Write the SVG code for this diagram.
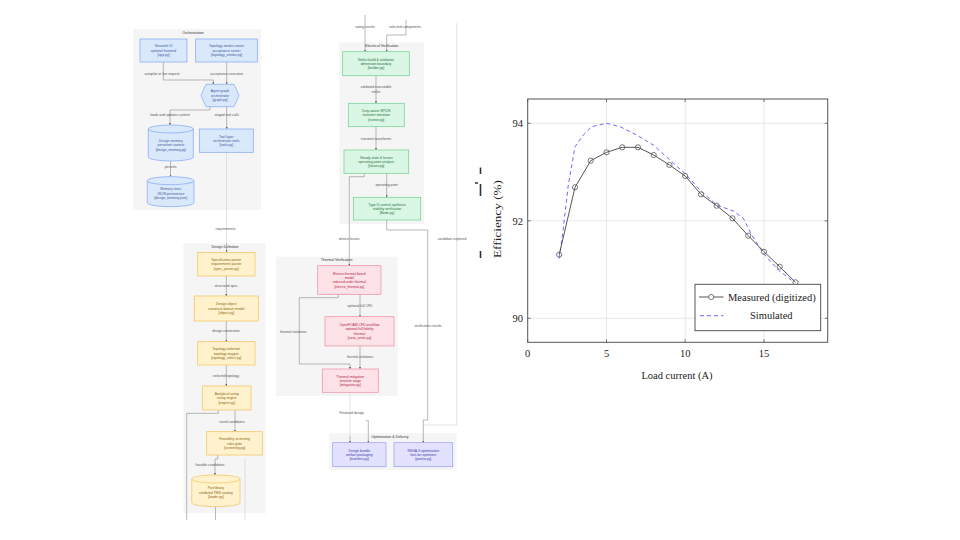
<svg xmlns="http://www.w3.org/2000/svg" width="960" height="540" viewBox="0 0 960 540">
<defs>
<style>
.cl{fill:#f5f5f5;stroke:none}
.ct{font-family:"Liberation Sans",Arial,sans-serif;font-size:3.6px;fill:#333;text-anchor:middle}
.t{font-family:"Liberation Sans",Arial,sans-serif;font-size:3.4px;text-anchor:middle}
.lb{font-family:"Liberation Sans",Arial,sans-serif;font-size:3.4px;fill:#555;text-anchor:middle}
.b{fill:#dae8fc;stroke:#7ea6f2;stroke-width:0.7}
.bt{fill:#3a5a9a}
.y{fill:#fff2cc;stroke:#f2c25a;stroke-width:0.7}
.yt{fill:#8a6414}
.g{fill:#d9f7e4;stroke:#6fd08f;stroke-width:0.7}
.gt{fill:#2a7040}
.r{fill:#fde2e8;stroke:#f08aa0;stroke-width:0.7}
.rt{fill:#b02848}
.p{fill:#e2e2ff;stroke:#9a9af2;stroke-width:0.7}
.pt{fill:#4040a8}
.e{fill:none;stroke:#8a8a8a;stroke-width:0.6}
.ef{fill:none;stroke:#d0d0d0;stroke-width:0.6}
.ax{font-family:"Liberation Serif","Times New Roman",serif;font-size:10.5px;fill:#222}
.grid{stroke:#e2e2e2;stroke-width:0.8}
</style>
<marker id="ah" viewBox="0 0 4 4" refX="4" refY="2" markerWidth="2" markerHeight="2" markerUnits="userSpaceOnUse" orient="auto">
<path d="M0,0 L4,2 L0,4 Z" fill="#555"/>
</marker>
</defs>
<rect width="960" height="540" fill="#ffffff"/>

<!-- clusters -->
<g id="clusters">
<rect class="cl" x="133" y="29" width="128" height="181"/>
<text class="ct" x="193" y="34.3">Orchestration</text>
<rect class="cl" x="183.3" y="243.3" width="82.4" height="270"/>
<text class="ct" x="225" y="247.8">Design Definition</text>
<rect class="cl" x="339.3" y="42.3" width="84.7" height="181.7"/>
<text class="ct" x="381.7" y="47">Electrical Verification</text>
<rect class="cl" x="276" y="256.7" width="121.7" height="139.3"/>
<text class="ct" x="336.7" y="261">Thermal Verification</text>
<rect class="cl" x="329.3" y="433.3" width="127.4" height="36.7"/>
<text class="ct" x="390" y="438">Optimization &amp; Delivery</text>
</g>

<!-- connectors -->
<g id="connectors">
<path class="e" d="M163.3,62 V80 H213.3 V84.3" marker-end="url(#ah)"/>
<path class="e" d="M226.7,62 V84.3" marker-end="url(#ah)"/>
<path class="e" d="M210,106.7 V110 H170 V125" marker-end="url(#ah)"/>
<path class="e" d="M226.7,106.7 V129" marker-end="url(#ah)"/>
<path class="e" d="M170.5,161 V176.7" marker-end="url(#ah)"/>
<path class="ef" d="M226.5,152.3 V243"/>
<path class="e" d="M226.5,243 V252.3" marker-end="url(#ah)"/>
<path class="e" d="M226.3,276 V296" marker-end="url(#ah)"/>
<path class="e" d="M226.3,321 V341.7" marker-end="url(#ah)"/>
<path class="e" d="M226.3,365 V386" marker-end="url(#ah)"/>
<path class="e" d="M218.3,410 V413.3 H186.7 V520"/>
<path class="e" d="M235,410 V431.7" marker-end="url(#ah)"/>
<path class="e" d="M217.7,455 V459 H215 V475" marker-end="url(#ah)"/>
<path class="e" d="M215.5,506.7 V520"/>
<path class="ef" d="M245,458 V520"/>
<path class="e" d="M365,15 V51.7" marker-end="url(#ah)"/>
<path class="e" d="M406,20 V35 H386.7 V51.7" marker-end="url(#ah)"/>
<path class="e" d="M376,75.7 V103.3" marker-end="url(#ah)"/>
<path class="e" d="M376,126.7 V150" marker-end="url(#ah)"/>
<path class="e" d="M386.7,173.3 V197.3" marker-end="url(#ah)"/>
<path class="e" d="M364.3,173.3 V176.7 H349.3 V265.7" marker-end="url(#ah)"/>
<path class="e" d="M386.7,220 V230 H427.7 V420 H423.3"/>
<path class="ef" d="M456.7,23 V425 H423.3"/>
<path class="e" d="M423.3,420 V442.7" marker-end="url(#ah)"/>
<path class="e" d="M360,294.3 V316.7" marker-end="url(#ah)"/>
<path class="e" d="M338.3,294.3 V297.7 H299.3 V364 H350 V369" marker-end="url(#ah)"/>
<path class="e" d="M360,346 V369" marker-end="url(#ah)"/>
<path class="ef" d="M350,392.3 V436"/>
<path class="e" d="M350,436 V442.7" marker-end="url(#ah)"/>
<path class="e" d="M366,420.7 H368.3 V442.7" marker-end="url(#ah)"/>
<text class="lb" x="162" y="75.2">autopilot or live request</text>
<text class="lb" x="226.7" y="75.2">acceptance execution</text>
<text class="lb" x="170" y="115.5">loads and updates context</text>
<text class="lb" x="226.7" y="115.5">staged tool calls</text>
<text class="lb" x="170.5" y="168.2">persists</text>
<text class="lb" x="225.5" y="229.5">requirements</text>
<text class="lb" x="226" y="286.9">structured spec</text>
<text class="lb" x="226" y="332.2">design constraints</text>
<text class="lb" x="226" y="377.2">selected topology</text>
<text class="lb" x="232" y="422.9">sized candidates</text>
<text class="lb" x="210" y="466.2">feasible candidates</text>
<text class="lb" x="365" y="27.9">sizing results</text>
<text class="lb" x="405" y="27.9">selected components</text>
<text class="lb" x="376" y="87.7">validated executable</text>
<text class="lb" x="376" y="92.7">netlist</text>
<text class="lb" x="376" y="140.2">transient waveforms</text>
<text class="lb" x="386.7" y="186.2">operating point</text>
<text class="lb" x="349.3" y="240.2">device losses</text>
<text class="lb" x="452" y="240.2">candidate explored</text>
<text class="lb" x="360" y="307.2">optional full CFD</text>
<text class="lb" x="293.3" y="332.7">thermal violations</text>
<text class="lb" x="428" y="327.2">verification results</text>
<text class="lb" x="360" y="357.9">thermal violations</text>
<text class="lb" x="351.7" y="413.5">Finalized design</text>
</g>

<!-- Orchestration nodes -->
<g id="n_app">
<rect class="b" x="140" y="39" width="47" height="23"/>
<text class="t bt" x="163.5" y="47.3">Streamlit UI</text>
<text class="t bt" x="163.5" y="51.7">optional frontend</text>
<text class="t bt" x="163.5" y="56.1">[app.py]</text>
</g>
<g id="n_smoke">
<rect class="b" x="195.7" y="39" width="61.6" height="23"/>
<text class="t bt" x="226.5" y="47.3">Topology smoke runner</text>
<text class="t bt" x="226.5" y="51.7">acceptance runner</text>
<text class="t bt" x="226.5" y="56.1">[topology_smoke.py]</text>
</g>
<g id="n_graph">
<polygon class="b" points="206,84.3 234,84.3 239,95.5 234,106.7 206,106.7 201,95.5"/>
<text class="t bt" x="220" y="92.3">Agent graph</text>
<text class="t bt" x="220" y="96.7">orchestrator</text>
<text class="t bt" x="220" y="101.1">[graph.py]</text>
</g>
<g id="n_memory">
<path class="b" d="M148.3,129 A22.5,4 0 0 1 193.3,129 V157 A22.5,4 0 0 1 148.3,157 Z"/>
<path class="b" d="M148.3,129 A22.5,4 0 0 0 193.3,129"/>
<text class="t bt" x="170.8" y="141.8">Design memory</text>
<text class="t bt" x="170.8" y="146.2">persistent context</text>
<text class="t bt" x="170.8" y="150.6">[design_memory.py]</text>
</g>
<g id="n_tools">
<rect class="b" x="199.3" y="129" width="54" height="23.3"/>
<text class="t bt" x="226.3" y="137.5">Tool layer</text>
<text class="t bt" x="226.3" y="141.9">orchestrator tools</text>
<text class="t bt" x="226.3" y="146.3">[tools.py]</text>
</g>
<g id="n_store">
<path class="b" d="M147.3,180.7 A23.35,4 0 0 1 194,180.7 V202.7 A23.35,4 0 0 1 147.3,202.7 Z"/>
<path class="b" d="M147.3,180.7 A23.35,4 0 0 0 194,180.7"/>
<text class="t bt" x="170.7" y="190.3">Memory store</text>
<text class="t bt" x="170.7" y="194.7">JSON persistence</text>
<text class="t bt" x="170.7" y="199.1">[design_memory.json]</text>
</g>

<!-- Design Definition nodes -->
<g id="n_spec">
<rect class="y" x="197.7" y="252.3" width="57.3" height="23.7"/>
<text class="t yt" x="226.3" y="261">Specification parser</text>
<text class="t yt" x="226.3" y="265.4">requirements parser</text>
<text class="t yt" x="226.3" y="269.8">[spec_parser.py]</text>
</g>
<g id="n_object">
<rect class="y" x="194.3" y="296" width="64" height="25"/>
<text class="t yt" x="226.3" y="305.3">Design object</text>
<text class="t yt" x="226.3" y="309.7">canonical domain model</text>
<text class="t yt" x="226.3" y="314.1">[object.py]</text>
</g>
<g id="n_topology">
<rect class="y" x="197.7" y="341.7" width="57.3" height="23.3"/>
<text class="t yt" x="226.3" y="350.1">Topology selection</text>
<text class="t yt" x="226.3" y="354.5">topology mapper</text>
<text class="t yt" x="226.3" y="358.9">[topology_select.py]</text>
</g>
<g id="n_sizing">
<rect class="y" x="202.3" y="386" width="48.7" height="24"/>
<text class="t yt" x="226.7" y="394.8">Analytical sizing</text>
<text class="t yt" x="226.7" y="399.2">sizing engine</text>
<text class="t yt" x="226.7" y="403.6">[engine.py]</text>
</g>
<g id="n_screening">
<rect class="y" x="206.7" y="431.7" width="55.6" height="23.3"/>
<text class="t yt" x="234.5" y="440.1">Feasibility screening</text>
<text class="t yt" x="234.5" y="444.5">rules gate</text>
<text class="t yt" x="234.5" y="448.9">[screening.py]</text>
</g>
<g id="n_parts">
<path class="y" d="M191.7,479 A24.15,4 0 0 1 240,479 V502.7 A24.15,4 0 0 1 191.7,502.7 Z"/>
<path class="y" d="M191.7,479 A24.15,4 0 0 0 240,479"/>
<text class="t yt" x="215.85" y="489.3">Part library</text>
<text class="t yt" x="215.85" y="493.7">validated TMS catalog</text>
<text class="t yt" x="215.85" y="498.1">[loader.py]</text>
</g>

<!-- Electrical nodes -->
<g id="n_netlist">
<rect class="g" x="342.7" y="51.7" width="66.6" height="24"/>
<text class="t gt" x="376" y="60.5">Netlist build &amp; validation</text>
<text class="t gt" x="376" y="64.9">dimension boundary</text>
<text class="t gt" x="376" y="69.3">[builder.py]</text>
</g>
<g id="n_spice">
<rect class="g" x="348.3" y="103.3" width="56" height="23.4"/>
<text class="t gt" x="376.3" y="111.8">Duty-aware SPICE</text>
<text class="t gt" x="376.3" y="116.2">transient simulator</text>
<text class="t gt" x="376.3" y="120.6">[runner.py]</text>
</g>
<g id="n_losses">
<rect class="g" x="344" y="150" width="64.7" height="23.3"/>
<text class="t gt" x="376.3" y="158.5">Steady-state &amp; losses</text>
<text class="t gt" x="376.3" y="162.9">operating point analysis</text>
<text class="t gt" x="376.3" y="167.3">[losses.py]</text>
</g>
<g id="n_bode">
<rect class="g" x="353.3" y="197.3" width="67.4" height="22.7"/>
<text class="t gt" x="387" y="205.5">Type III control synthesis</text>
<text class="t gt" x="387" y="209.9">stability verification</text>
<text class="t gt" x="387" y="214.3">[Bode.py]</text>
</g>

<!-- Thermal nodes -->
<g id="n_electro">
<rect class="r" x="317.7" y="265.7" width="63.3" height="28.6"/>
<text class="t rt" x="349.3" y="274.6">Electro-thermal board</text>
<text class="t rt" x="349.3" y="279">model</text>
<text class="t rt" x="349.3" y="283.4">reduced-order thermal</text>
<text class="t rt" x="349.3" y="287.8">[electro_thermal.py]</text>
</g>
<g id="n_openfoam">
<rect class="r" x="325" y="316.7" width="69" height="29.3"/>
<text class="t rt" x="359.5" y="325.9">OpenFOAM CFD workflow</text>
<text class="t rt" x="359.5" y="330.3">optional full-fidelity</text>
<text class="t rt" x="359.5" y="334.7">thermal</text>
<text class="t rt" x="359.5" y="339.1">[case_writer.py]</text>
</g>
<g id="n_mitigation">
<rect class="r" x="322.3" y="369" width="56" height="23.3"/>
<text class="t rt" x="350.3" y="377.5">Thermal mitigation</text>
<text class="t rt" x="350.3" y="381.9">iteration stage</text>
<text class="t rt" x="350.3" y="386.3">[mitigation.py]</text>
</g>

<!-- Optimization nodes -->
<g id="n_bundle">
<rect class="p" x="332.7" y="442.7" width="53.3" height="24"/>
<text class="t pt" x="359.3" y="451.5">Design bundle</text>
<text class="t pt" x="359.3" y="455.9">artifact packaging</text>
<text class="t pt" x="359.3" y="460.3">[manifest.py]</text>
</g>
<g id="n_nsga">
<rect class="p" x="394" y="442.7" width="58.7" height="24"/>
<text class="t pt" x="423.3" y="451.5">NSGA-II optimization</text>
<text class="t pt" x="423.3" y="455.9">fast-tier optimizer</text>
<text class="t pt" x="423.3" y="460.3">[pareto.py]</text>
</g>

<!-- Chart -->
<g id="chart">
<line class="grid" x1="606.5" y1="99" x2="606.5" y2="342.3"/>
<line class="grid" x1="685.2" y1="99" x2="685.2" y2="342.3"/>
<line class="grid" x1="764" y1="99" x2="764" y2="342.3"/>
<line class="grid" x1="527.7" y1="123.3" x2="827.7" y2="123.3"/>
<line class="grid" x1="527.7" y1="220.8" x2="827.7" y2="220.8"/>
<line class="grid" x1="527.7" y1="318.3" x2="827.7" y2="318.3"/>
<rect x="527.7" y="99" width="300" height="243.3" fill="none" stroke="#555" stroke-width="1"/>
<g stroke="#555" stroke-width="0.8">
<path d="M527.7,342.3 v-3 M606.5,342.3 v-3 M685.2,342.3 v-3 M764,342.3 v-3 M527.7,99 v3 M606.5,99 v3 M685.2,99 v3 M764,99 v3"/>
<path d="M527.7,123.3 h3 M527.7,220.8 h3 M527.7,318.3 h3 M827.7,123.3 h-3 M827.7,220.8 h-3 M827.7,318.3 h-3"/>
</g>
<text class="ax" x="523" y="127" text-anchor="end">94</text>
<text class="ax" x="523" y="224.5" text-anchor="end">92</text>
<text class="ax" x="523" y="322" text-anchor="end">90</text>
<text class="ax" x="527.7" y="356.5" text-anchor="middle">0</text>
<text class="ax" x="606.5" y="356.5" text-anchor="middle">5</text>
<text class="ax" x="685.2" y="356.5" text-anchor="middle">10</text>
<text class="ax" x="764" y="356.5" text-anchor="middle">15</text>
<text class="ax" x="677" y="378.5" text-anchor="middle">Load current (A)</text>
<text class="ax" x="0" y="0" text-anchor="middle" transform="translate(500.5,219) rotate(-90)" font-size="12" textLength="78" lengthAdjust="spacingAndGlyphs">Efficiency (%)</text>
<g stroke="#333" stroke-width="1.6" fill="none">
<path d="M480.5,167.5 V174"/>
<path d="M475,183 H478 M480.5,184 V196"/>
<path d="M480.5,251 V258"/>
</g>
<polyline fill="none" stroke="#6a6aff" stroke-width="1" stroke-dasharray="4,3" points="559.3,258.3 563.3,228.3 568.3,185 575,146.7 583.3,135 591.7,126.7 606.7,123.3 620,126.7 636.7,135 653.3,145 670,160 685.7,174.3 700,190 716.7,205 733.3,211 743.3,218.3 751.7,235 763.3,253.3 778.3,270 793.3,281.7"/>
<polyline fill="none" stroke="#555" stroke-width="1" points="559.2,254.7 575,187.3 590.7,160.7 606.5,152.3 622.2,147.3 638,147.3 653.7,155 669.5,165 685.2,176 701,194.3 716.7,205.7 732.5,218.3 748.2,235.7 764,251.7 779.7,266.7 795.5,282.3"/>
<g fill="none" stroke="#555" stroke-width="0.8">
<circle cx="559.2" cy="254.7" r="2.6"/><circle cx="575" cy="187.3" r="2.6"/><circle cx="590.7" cy="160.7" r="2.6"/><circle cx="606.5" cy="152.3" r="2.6"/><circle cx="622.2" cy="147.3" r="2.6"/><circle cx="638" cy="147.3" r="2.6"/><circle cx="653.7" cy="155" r="2.6"/><circle cx="669.5" cy="165" r="2.6"/><circle cx="685.2" cy="176" r="2.6"/><circle cx="701" cy="194.3" r="2.6"/><circle cx="716.7" cy="205.7" r="2.6"/><circle cx="732.5" cy="218.3" r="2.6"/><circle cx="748.2" cy="235.7" r="2.6"/><circle cx="764" cy="251.7" r="2.6"/><circle cx="779.7" cy="266.7" r="2.6"/><circle cx="795.5" cy="282.3" r="2.6"/>
</g>
<rect x="695" y="284.3" width="125.7" height="46.4" fill="#ffffff" stroke="#444" stroke-width="0.9"/>
<line x1="699" y1="297" x2="723.5" y2="297" stroke="#555" stroke-width="1"/>
<circle cx="711.2" cy="297" r="2.6" fill="#fff" stroke="#555" stroke-width="0.8"/>
<text class="ax" x="728" y="300.6">Measured (digitized)</text>
<line x1="700" y1="315.7" x2="723.5" y2="315.7" stroke="#6a6aff" stroke-width="1" stroke-dasharray="4,3"/>
<text class="ax" x="750" y="319.3">Simulated</text>
</g>
</svg>
